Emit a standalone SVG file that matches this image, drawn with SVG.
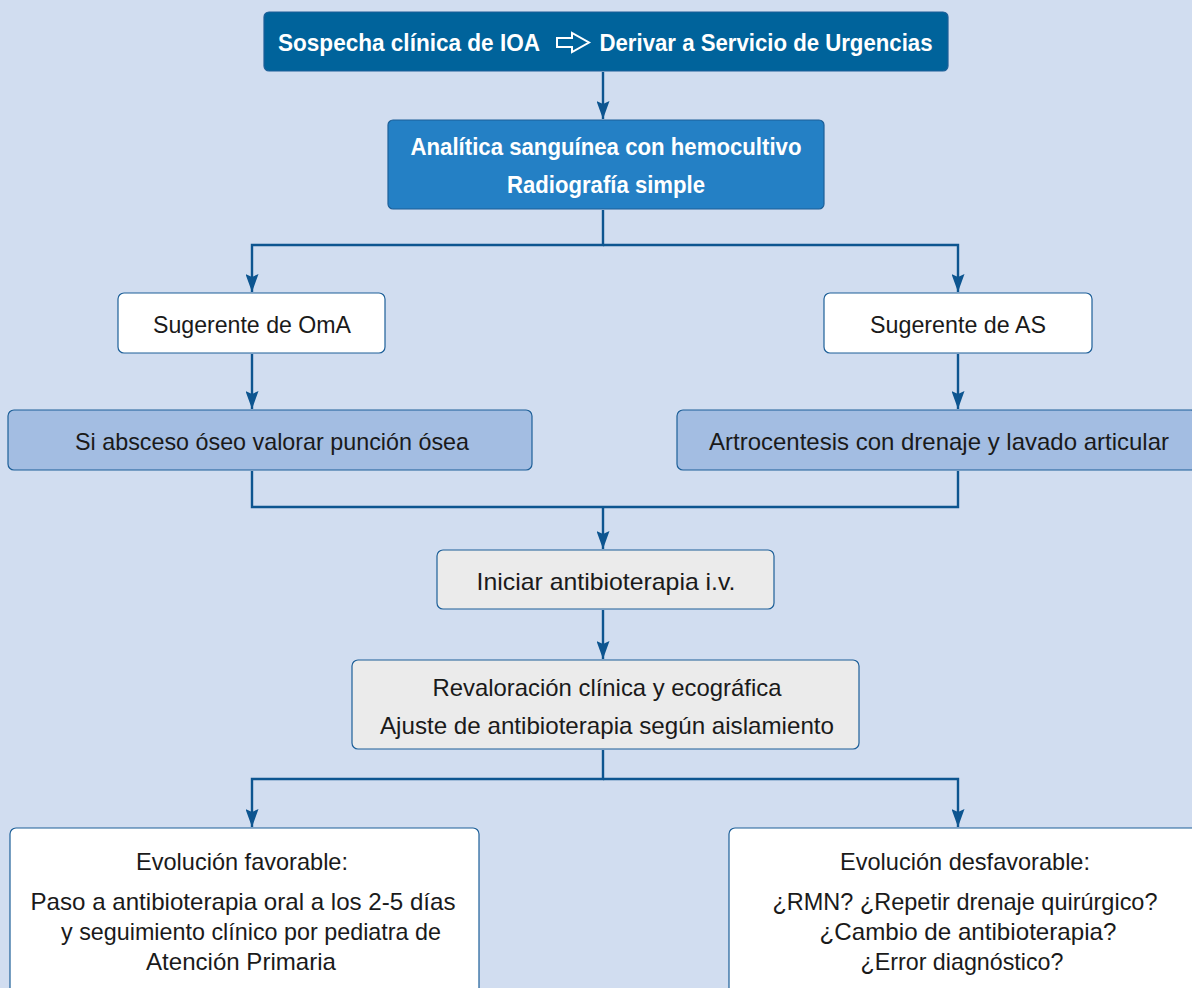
<svg xmlns="http://www.w3.org/2000/svg" width="1192" height="988" viewBox="0 0 1192 988">
<defs>
<style>
.bg{fill:#d1ddf0}
.n{stroke:#1d5f98;stroke-width:1.2}
.dark{fill:#00639b}
.mid{fill:#2480c5}
.lite{fill:#a3bde2}
.wht{fill:#ffffff}
.gry{fill:#ebebeb}
.t{font-family:"Liberation Sans",Arial,sans-serif;font-size:24px;fill:#1a1a1a;text-anchor:middle}
.tb{font-family:"Liberation Sans",Arial,sans-serif;font-size:24px;font-weight:bold;fill:#ffffff;text-anchor:middle}
.c{fill:none;stroke:#0d5590;stroke-width:2.4}
</style>
<marker id="ah" viewBox="0 0 18 13" refX="18" refY="6.5" markerWidth="18" markerHeight="13" markerUnits="userSpaceOnUse" orient="auto">
<path d="M0,0 L18,6.5 L0,13 L3,6.5 Z" fill="#0d5590"/>
</marker>
</defs>
<rect class="bg" x="0" y="0" width="1192" height="988"/>

<g id="connectors">
<path class="c" d="M603,72 V119" marker-end="url(#ah)"/>
<path class="c" d="M603,210 V245 H252 V292" marker-end="url(#ah)"/>
<path class="c" d="M603,245 H958 V292" marker-end="url(#ah)"/>
<path class="c" d="M252,354 V409" marker-end="url(#ah)"/>
<path class="c" d="M958,354 V409" marker-end="url(#ah)"/>
<path class="c" d="M252,471 V507 H958 V471"/>
<path class="c" d="M603,507 V549" marker-end="url(#ah)"/>
<path class="c" d="M603,610 V659" marker-end="url(#ah)"/>
<path class="c" d="M603,750 V779 H252 V827" marker-end="url(#ah)"/>
<path class="c" d="M603,779 H958 V827" marker-end="url(#ah)"/>
</g>

<g id="n1">
<rect class="n dark" x="264" y="12" width="684" height="59" rx="5"/>
<text class="tb" x="409" y="51" textLength="262" lengthAdjust="spacingAndGlyphs">Sospecha clínica de IOA</text>
<path d="M557,38 H572 V33 L589,42.5 L572,52 V47 H557 Z" fill="none" stroke="#ffffff" stroke-width="2"/>
<text class="tb" x="766" y="51" textLength="333" lengthAdjust="spacingAndGlyphs">Derivar a Servicio de Urgencias</text>
</g>

<g id="n2">
<rect class="n mid" x="388" y="120" width="436" height="89" rx="5"/>
<text class="tb" x="606" y="155" textLength="391" lengthAdjust="spacingAndGlyphs">Analítica sanguínea con hemocultivo</text>
<text class="tb" x="606" y="193" textLength="198" lengthAdjust="spacingAndGlyphs">Radiografía simple</text>
</g>

<g id="n3">
<rect class="n wht" x="118" y="293" width="267" height="60" rx="6"/>
<text class="t" x="252" y="333" textLength="198" lengthAdjust="spacingAndGlyphs">Sugerente de OmA</text>
</g>

<g id="n4">
<rect class="n wht" x="824" y="293" width="268" height="60" rx="6"/>
<text class="t" x="958" y="333" textLength="176" lengthAdjust="spacingAndGlyphs">Sugerente de AS</text>
</g>

<g id="n5">
<rect class="n lite" x="8" y="410" width="524" height="60" rx="6"/>
<text class="t" x="272" y="450" textLength="394" lengthAdjust="spacingAndGlyphs">Si absceso óseo valorar punción ósea</text>
</g>

<g id="n6">
<rect class="n lite" x="677" y="410" width="520" height="60" rx="6"/>
<text class="t" x="939" y="450" textLength="460" lengthAdjust="spacingAndGlyphs">Artrocentesis con drenaje y lavado articular</text>
</g>

<g id="n7">
<rect class="n gry" x="437" y="550" width="337" height="59" rx="6"/>
<text class="t" x="606" y="590" textLength="259" lengthAdjust="spacingAndGlyphs">Iniciar antibioterapia i.v.</text>
</g>

<g id="n8">
<rect class="n gry" x="352" y="660" width="507" height="89" rx="6"/>
<text class="t" x="607" y="696" textLength="349" lengthAdjust="spacingAndGlyphs">Revaloración clínica y ecográfica</text>
<text class="t" x="607" y="734" textLength="454" lengthAdjust="spacingAndGlyphs">Ajuste de antibioterapia según aislamiento</text>
</g>

<g id="n9">
<rect class="n wht" x="10" y="828" width="469" height="180" rx="6"/>
<text class="t" x="242" y="870" textLength="212" lengthAdjust="spacingAndGlyphs">Evolución favorable:</text>
<text class="t" x="243" y="910" textLength="425" lengthAdjust="spacingAndGlyphs">Paso a antibioterapia oral a los 2-5 días</text>
<text class="t" x="251" y="940" textLength="380" lengthAdjust="spacingAndGlyphs">y seguimiento clínico por pediatra de</text>
<text class="t" x="241" y="970" textLength="190" lengthAdjust="spacingAndGlyphs">Atención Primaria</text>
</g>

<g id="n10">
<rect class="n wht" x="729" y="828" width="480" height="180" rx="6"/>
<text class="t" x="965" y="870" textLength="250" lengthAdjust="spacingAndGlyphs">Evolución desfavorable:</text>
<text class="t" x="965" y="910" textLength="385" lengthAdjust="spacingAndGlyphs">¿RMN? ¿Repetir drenaje quirúrgico?</text>
<text class="t" x="968" y="940" textLength="297" lengthAdjust="spacingAndGlyphs">¿Cambio de antibioterapia?</text>
<text class="t" x="962" y="970" textLength="203" lengthAdjust="spacingAndGlyphs">¿Error diagnóstico?</text>
</g>
</svg>
